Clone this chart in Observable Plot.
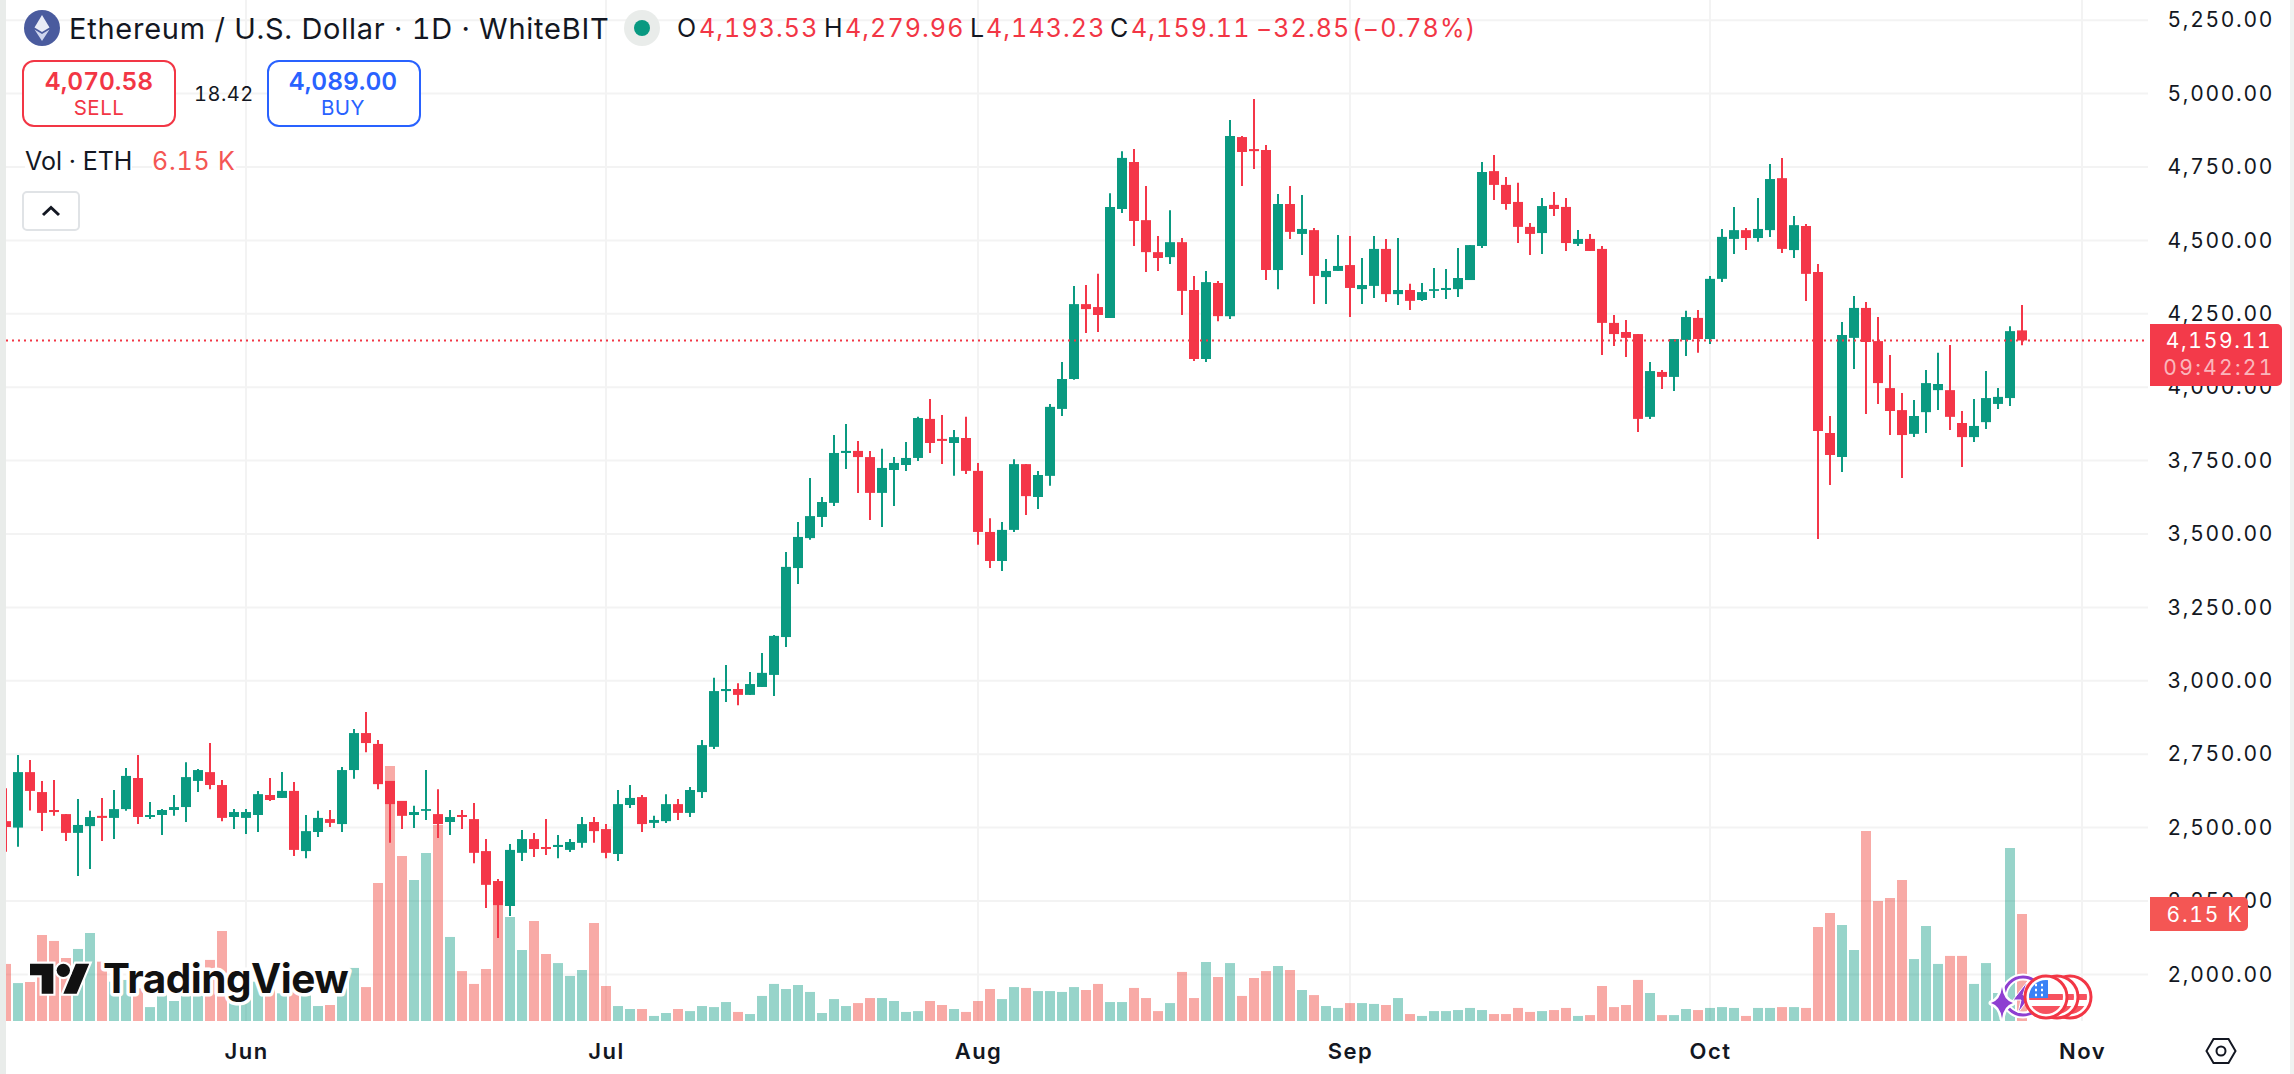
<!doctype html>
<html><head><meta charset="utf-8">
<script src="https://cdn.jsdelivr.net/npm/d3@7"></script>
<script src="https://cdn.jsdelivr.net/npm/@observablehq/plot@0.6"></script>
<style>
html,body{margin:0;padding:0;background:#fff;overflow:hidden}
#wrap{position:relative;width:2294px;height:1074px;font-family:Inter,"Noto Sans",sans-serif;color:#131722;font-variant-numeric:tabular-nums}
#wrap svg{font-family:Inter,"Noto Sans",sans-serif;font-variant-numeric:tabular-nums}
#chart svg{display:block}
g[aria-label="y-axis tick label"]{letter-spacing:1.7px}
g[aria-label="x-axis tick label"]{letter-spacing:1.5px}
.a{position:absolute;white-space:nowrap;line-height:1}
.mid{transform:translate(-50%,-50%)}
.v{transform:translateY(-50%)}
.box{position:absolute;top:60px;width:154px;height:67px;box-sizing:border-box;border:2.5px solid;border-radius:12px;background:#fff}
.red{color:#f23645}.blue{color:#2962ff}
.ohlc{letter-spacing:1.1px}
</style></head><body><div id="wrap"><div id="chart"></div></div>
<script>
const startDate = Date.UTC(2025, 4, 12);
const monthTicks = [Date.UTC(2025,5,1),Date.UTC(2025,6,1),Date.UTC(2025,7,1),Date.UTC(2025,8,1),Date.UTC(2025,9,1),Date.UTC(2025,10,1)];
const priceTicks = [5250,5000,4750,4500,4250,4000,3750,3500,3250,3000,2750,2500,2250,2000];
const open = [2522,2500,2689,2621,2560,2546,2482,2505,2540,2533,2563,2669,2536,2543,2560,2570,2659,2689,2645,2536,
2533,2543,2611,2601,2625,2420,2485,2529,2512,2696,2822,2785,2659,2591,2543,2557,2546,2519,2543,2529,
2420,2318,2233,2414,2461,2434,2434,2424,2448,2519,2495,2410,2577,2604,2516,2522,2580,2550,2621,2775,
2965,2972,2952,2979,3020,3149,3384,3486,3558,3606,3776,3783,3762,3640,3718,3735,3759,3892,3824,3810,
3827,3715,3507,3408,3514,3738,3626,3698,3926,4028,4283,4273,4236,4607,4767,4569,4460,4443,4494,4331,
4096,4355,4242,4852,4811,4808,4399,4624,4522,4535,4375,4396,4416,4334,4345,4471,4317,4331,4297,4328,
4331,4334,4365,4481,4736,4689,4631,4546,4525,4621,4614,4488,4505,4471,4219,4188,4181,3899,4052,4035,
4161,4236,4164,4369,4505,4535,4508,4535,4712,4467,4549,4392,3844,3762,4168,4270,4157,3997,3922,3841,
3915,3990,3990,3878,3830,3881,3943,3963,4193.53];
const close = [2502,2689,2625,2550,2553,2482,2509,2536,2533,2563,2676,2536,2543,2560,2570,2672,2696,2645,2533,2553,
2553,2614,2594,2625,2424,2488,2533,2516,2696,2822,2788,2648,2580,2540,2553,2563,2512,2536,2536,2414,
2305,2236,2424,2461,2427,2427,2441,2451,2512,2488,2414,2580,2601,2512,2526,2580,2550,2628,2781,2965,
2972,2952,2989,3027,3153,3388,3490,3561,3609,3776,3783,3762,3640,3725,3742,3759,3895,3810,3817,3830,
3715,3507,3408,3514,3738,3629,3701,3933,4028,4283,4266,4246,4614,4781,4566,4460,4440,4494,4328,4096,
4358,4242,4856,4801,4804,4399,4624,4529,4539,4379,4396,4413,4338,4348,4471,4317,4331,4294,4324,4334,
4338,4372,4484,4733,4689,4624,4546,4522,4617,4607,4491,4505,4464,4219,4181,4168,3892,4055,4035,4164,
4239,4164,4369,4512,4535,4508,4539,4709,4471,4552,4386,3851,3769,4178,4270,4154,4014,3919,3837,3902,
4014,4011,3899,3830,3868,3963,3967,4191,4159.11];
const high = [2634,2747,2730,2659,2662,2546,2597,2557,2601,2628,2703,2747,2587,2563,2611,2723,2700,2788,2662,2563,
2563,2625,2669,2689,2655,2543,2557,2560,2706,2836,2894,2798,2659,2591,2574,2696,2631,2560,2560,2584,
2461,2325,2444,2492,2482,2529,2475,2461,2536,2536,2512,2628,2645,2611,2540,2614,2597,2638,2798,3010,
3054,2992,3030,3095,3156,3439,3541,3691,3626,3837,3875,3817,3783,3790,3762,3813,3899,3960,3905,3854,
3899,3742,3554,3541,3755,3738,3715,3943,4086,4345,4348,4386,4661,4804,4811,4685,4515,4603,4508,4379,
4396,4362,4910,4856,4982,4825,4658,4685,4655,4542,4437,4518,4515,4440,4515,4505,4508,4352,4355,4406,
4403,4474,4484,4767,4791,4716,4696,4559,4644,4665,4644,4535,4522,4481,4246,4229,4181,4086,4059,4164,
4260,4263,4379,4539,4614,4542,4644,4760,4781,4583,4556,4420,3902,4222,4311,4290,4239,4110,3980,3956,
4059,4117,4144,3919,3960,4055,3997,4208,4279.96];
const low = [2418,2435,2558,2488,2540,2454,2335,2359,2454,2461,2557,2512,2529,2475,2540,2519,2621,2631,2522,2495,
2478,2485,2591,2601,2403,2396,2468,2502,2485,2666,2757,2631,2448,2495,2499,2526,2465,2475,2495,2379,
2226,2124,2199,2386,2400,2407,2396,2417,2431,2448,2396,2386,2567,2485,2499,2516,2526,2536,2601,2768,
2928,2917,2952,2979,2948,3115,3330,3480,3524,3595,3721,3640,3548,3524,3595,3715,3749,3776,3738,3698,
3704,3463,3384,3374,3507,3565,3585,3664,3902,4025,4185,4188,4236,4593,4481,4392,4396,4420,4246,4089,
4086,4225,4232,4685,4743,4365,4334,4505,4450,4283,4283,4396,4239,4283,4304,4290,4280,4263,4294,4304,
4300,4307,4365,4474,4638,4604,4491,4450,4454,4583,4464,4481,4464,4110,4140,4103,3847,3892,3994,3987,
4106,4117,4147,4358,4454,4467,4495,4512,4457,4440,4294,3483,3667,3711,4062,3909,3943,3837,3691,3830,
3844,3922,3854,3728,3813,3858,3926,3936,4143.23];
const volumeK = [3.28,2.18,2.24,4.94,4.60,3.62,4.14,5.06,3.41,2.26,2.36,1.88,0.80,1.78,1.15,1.78,1.78,3.51,5.17,1.21,
1.40,2.26,1.97,1.59,1.78,1.59,0.86,0.92,1.88,3.05,1.95,7.93,14.66,9.48,8.10,9.66,11.27,4.83,2.87,2.13,
2.99,7.34,5.98,4.08,5.75,3.85,3.33,2.59,2.93,5.63,2.01,0.86,0.69,0.69,0.29,0.46,0.69,0.57,0.86,0.80,
1.09,0.52,0.40,1.44,2.13,1.84,2.07,1.67,0.46,1.26,0.86,1.03,1.32,1.32,1.15,0.52,0.57,1.15,0.92,0.69,
0.52,1.15,1.84,1.26,1.95,1.90,1.72,1.72,1.67,1.95,1.78,2.13,1.09,1.09,1.90,1.32,0.57,1.03,2.82,1.32,
3.39,2.53,3.33,1.44,2.47,2.87,3.16,2.93,1.78,1.49,0.86,0.75,1.03,1.03,0.98,0.92,1.32,0.40,0.29,0.57,
0.57,0.63,0.75,0.63,0.40,0.40,0.75,0.52,0.57,0.63,0.75,0.29,0.34,2.01,0.80,0.92,2.36,1.61,0.34,0.34,
0.69,0.63,0.75,0.80,0.75,0.29,0.75,0.75,0.80,0.80,0.75,5.40,6.21,5.52,4.08,10.92,6.90,7.07,8.10,3.56,
5.46,3.28,3.74,3.74,2.13,3.33,1.61,9.94,6.15];
const lastClose = 4159.11;
const volumeFloor = 1841.3;   // price level that the volume pane's zero sits on
const volumeUnit = 59.26;     // price span of 1K of volume in the shared y scale
const paneTop = 5319, paneBottom = volumeFloor;
const green = "#0a9a81", red = "#f43648";

const candles = open.map((o, i) => ({
  date: new Date(startDate + i * 864e5),
  open: o, high: high[i], low: low[i], close: close[i], vol: volumeK[i],
  up: close[i] >= o
}));
const leftEdge = new Date(Date.UTC(2025,4,12));
const rightEdge = new Date(Date.UTC(2025,10,1) + 5.5 * 864e5);

const chart = Plot.plot({
  width: 2294, height: 1074,
  marginTop: 0, marginLeft: 0, marginRight: 146, marginBottom: 53,
  style: {background: "transparent", overflow: "visible"},
  x: {type: "utc", domain: [new Date(monthTicks[0]), new Date(monthTicks[5])], range: [246, 2082], axis: null},
  y: {domain: [2000, 5250], range: [974.4, 20.2], axis: null},
  marks: [
    Plot.ruleY(priceTicks, {x1: () => leftEdge, x2: () => rightEdge, y: d => d, stroke: "#f3f3f3", strokeWidth: 2, dy: -0.5}),
    Plot.ruleX(monthTicks, {x: d => new Date(d), y1: paneBottom, y2: paneTop, stroke: "#f3f3f3", strokeWidth: 2, dx: -0.5}),
    Plot.ruleX(candles, {x: "date", y1: volumeFloor, y2: d => volumeFloor + d.vol * volumeUnit,
      stroke: d => d.up ? "#089981" : "#f0463c", strokeOpacity: d => d.up ? 0.42 : 0.46, strokeWidth: 10, dx: -0.5}),
    Plot.ruleX(candles, {x: "date", y1: "low", y2: "high", stroke: d => d.up ? green : red, strokeWidth: 2, dx: -0.5}),
    Plot.ruleX(candles, {x: "date", y1: "open", y2: "close", stroke: d => d.up ? green : red, strokeWidth: 10, dx: -0.5}),
    Plot.ruleY([lastClose], {x1: () => leftEdge, x2: () => new Date(Date.UTC(2025,10,1) + 5.2 * 864e5), y: d => d,
      stroke: "#f23645", strokeWidth: 2, strokeDasharray: "2,4", dy: -0.5}),
    Plot.axisY(priceTicks, {anchor: "right", tickSize: 0, tickPadding: 19, tickFormat: d3.format(",.2f"),
      fontSize: 21, fill: "#131722", label: null}),
    Plot.axisX(monthTicks.map(d => new Date(d)), {anchor: "bottom", tickSize: 0, tickPadding: 30, lineAnchor: "middle",
      tickFormat: d3.utcFormat("%b"), fontSize: 22, fontWeight: 600, fill: "#131722", label: null})
  ]
});
document.getElementById("chart").appendChild(chart);

const wrap = document.getElementById("wrap");
function add(html){ wrap.insertAdjacentHTML("beforeend", html); }
function t(x, y, size, txt, cls="", extra=""){ add(`<div class="a v ${cls}" style="left:${x}px;top:${y}px;font-size:${size}px;${extra}">${txt}</div>`); }
function c(x, y, size, txt, cls="", extra=""){ add(`<div class="a mid ${cls}" style="left:${x}px;top:${y}px;font-size:${size}px;${extra}">${txt}</div>`); }

// side strips
add(`<div class="a" style="left:0;top:0;width:5.5px;height:1074px;background:#e9ecea"></div>`);
add(`<div class="a" style="left:2290px;top:0;width:4px;height:1074px;background:#f0f2f1"></div>`);

// legend head
add(`<svg class="a" style="left:24px;top:10px" width="36" height="36" viewBox="0 0 36 36"><circle cx="18" cy="18" r="18" fill="#4a5b9e"/><path d="M18 5l-7.5 12.5L18 22l7.5-4.500z" fill="#e9ecf7"/><path d="M10.500 19.500L18 31l7.500-11.500L18 24z" fill="#cfd6ee"/></svg>`);
t(69, 28, 29, "Ethereum / U.S. Dollar · 1D · WhiteBIT", "", "letter-spacing:.75px");
add(`<svg class="a" style="left:624px;top:10px" width="36" height="36"><circle cx="18" cy="18" r="18" fill="#e9ecea"/><circle cx="18" cy="18" r="8" fill="#089981"/></svg>`);
t(677, 28, 25, "O"); t(699, 28, 25, "4,193.53", "red ohlc");
t(824, 28, 25, "H"); t(845, 28, 25, "4,279.96", "red ohlc");
t(970, 28, 25, "L"); t(986, 28, 25, "4,143.23", "red ohlc");
t(1110, 28, 25, "C"); t(1131, 28, 25, "4,159.11", "red ohlc");
t(1256, 28, 25, "−32.85", "red ohlc"); t(1352, 28, 25, "(−0.78%)", "red ohlc");

// trade buttons
add(`<div class="box" style="left:22px;border-color:#f23645"></div><div class="box" style="left:266.500px;border-color:#2962ff"></div>`);
c(99, 81, 24.5, "4,070.58", "red", "font-weight:600");
c(99, 108, 20.5, "SELL", "red", "letter-spacing:.5px");
t(194, 94, 20, "18.42", "", "letter-spacing:.5px");
c(343, 81, 24.5, "4,089.00", "blue", "font-weight:600");
c(343, 108, 20.5, "BUY", "blue", "letter-spacing:.5px");

t(25, 161, 25, "Vol · ETH", "", "background:rgba(255,255,255,.85)");
t(152, 161, 25, "6.15 K", "", "color:#f45654;background:rgba(255,255,255,.85);letter-spacing:.8px");
add(`<div class="a" style="left:22px;top:190.500px;width:57.500px;height:40.500px;box-sizing:border-box;border:2px solid #e0e3e6;border-radius:5px;background:#fff"></div>`);
add(`<svg class="a" style="left:40px;top:204px" width="22" height="14"><path d="M3 11L11 3.500L19 11" fill="none" stroke="#131722" stroke-width="3"/></svg>`);

// price tags
add(`<div class="a" style="left:2150px;top:324px;width:132px;height:62px;background:#f33a4a;border-radius:0 5px 5px 0"></div>`);
c(2219, 340, 21, "4,159.11", "", "color:#fff;letter-spacing:1.700px");
c(2219, 367, 21, "09:42:21", "", "color:rgba(255,255,255,.65);letter-spacing:2.300px");
add(`<div class="a" style="left:2150px;top:897px;width:98px;height:34px;background:#f45654;border-radius:0 5px 5px 0"></div>`);
c(2205, 914, 21, "6.15 K", "", "color:#fff;letter-spacing:1.800px");

// settings glyph
add(`<svg class="a" style="left:2204px;top:1036px" width="34" height="30" viewBox="0 0 34 30"><path d="M2.500 15L9.500 3H24.500L31.500 15L24.500 27H9.500Z" fill="none" stroke="#131722" stroke-width="2"/><circle cx="17" cy="15" r="4.500" fill="none" stroke="#131722" stroke-width="2"/></svg>`);

// watermark
add(`<svg class="a" style="left:30px;top:957.300px;overflow:visible" width="60" height="46.700" viewBox="0 0 36 28"><path d="M14 22H7V11H0V4h14v18zM28 22h-8l7.500-18h8L28 22z" fill="#111" stroke="#fff" stroke-width="2.600" paint-order="stroke"/><circle cx="20" cy="8" r="4" fill="#111" stroke="#fff" stroke-width="2.600" paint-order="stroke"/></svg>`);
add(`<svg class="a" style="left:0;top:920px;overflow:visible" width="400" height="110"><text x="103" y="73" font-size="40.500" font-weight="700" letter-spacing="-.5" fill="#111" stroke="#fff" stroke-width="7" paint-order="stroke" stroke-linejoin="round" style="font-family:Inter,sans-serif">TradingView</text></svg>`);

// event badges
const flag = (cx, id) => `<clipPath id="${id}"><circle cx="${cx}" cy="37" r="17"/></clipPath>
<circle cx="${cx}" cy="37" r="21" fill="#fff" stroke="#f23645" stroke-width="3"/>
<g clip-path="url(#${id})"><rect x="${cx-17}" y="20" width="34" height="34" fill="#fff"/>
<rect x="${cx-17}" y="34" width="34" height="6" fill="#f7525f"/><rect x="${cx-17}" y="46" width="34" height="9" fill="#f7525f"/>
<rect x="${cx-17}" y="20" width="19" height="18" fill="#3b82f6"/>
<path d="M${cx-11} 25h2M${cx-5} 25h2M${cx-11} 30h2M${cx-5} 30h2M${cx-11} 35h2M${cx-5} 35h2" stroke="#fff" stroke-width="2.500"/></g>`;
add(`<svg class="a" style="left:1980px;top:960px;overflow:visible" width="120" height="70">
<circle cx="43" cy="36" r="19" fill="none" stroke="#fff" stroke-width="7"/><circle cx="43" cy="36" r="19" fill="#fff" fill-opacity="0" stroke="#8e3fd1" stroke-width="3"/>
<path d="M47 22L33 40h8l-3 13 13-18h-8z" fill="#8e3fd1" stroke="#fff" stroke-width="1"/>
<path d="M22 27Q23.500 40 33 43Q23.500 46 22 59Q20.500 46 11 43Q20.500 40 22 27Z" fill="#8e3fd1" stroke="#fff" stroke-width="5" paint-order="stroke" stroke-linejoin="round"/>
${flag(90,"f3")}${flag(77,"f2")}${flag(66,"f1")}</svg>`);
</script></body></html>
